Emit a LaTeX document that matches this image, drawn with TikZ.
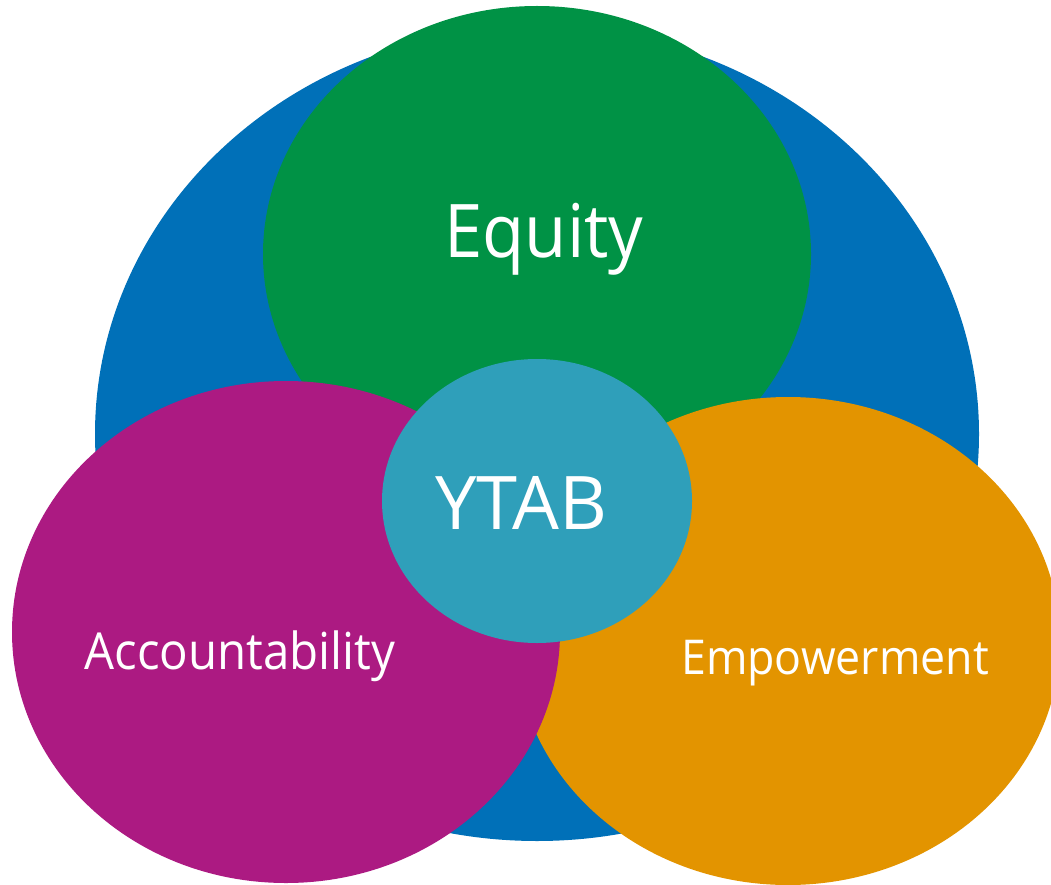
\documentclass[tikz,border=0pt]{standalone}
\usepackage{fontspec}
\setmainfont[FakeStretch=0.93]{Open Sans}
\newfontfamily\ytabfont{Open Sans}
\usepackage{tikz}
\usetikzlibrary{shapes.geometric,positioning}

\definecolor{ytabblue}{HTML}{0070B8}
\definecolor{ytabgreen}{HTML}{009245}
\definecolor{ytabmagenta}{HTML}{AC1A82}
\definecolor{ytaborange}{HTML}{E39400}
\definecolor{ytabteal}{HTML}{2F9FBA}

\tikzset{
    blob/.style={ellipse, inner sep=0pt, draw=none},
    word/.style={text=white, anchor=base, inner sep=0pt}
}

\begin{document}
\begin{tikzpicture}[x=1pt, y=-1pt]
    \clip (0,0) rectangle (1051,885);
    \node[blob, fill=ytabblue, minimum width=884pt, minimum height=814pt] (outer) at (537,434) {};
    \node[blob, fill=ytabgreen, minimum width=548pt, minimum height=496pt] (equity) at (537,254) {};
    \node[blob, fill=ytaborange, minimum width=544pt, minimum height=488pt] (empower) at (788,641) {};
    \node[blob, fill=ytabmagenta, minimum width=548pt, minimum height=502pt] (account) at (286,632) {};
    \node[blob, fill=ytabteal, minimum width=310pt, minimum height=284pt] (ytab) at (537,501) {};

    % labels
    \node[word, font=\fontsize{74}{80}\selectfont] (equitytext) at (544,258) {Equity};
    \node[word, font=\ytabfont\fontsize{74}{80}\selectfont] (ytabtext) at (521,529) {YTAB};
    \node[word, font=\fontsize{51}{56}\selectfont] (accounttext) at (240,669) {Accountability};
    \node[word, font=\fontsize{48}{52}\selectfont] (empowertext) at (835,674) {Empowerment};
\end{tikzpicture}
\end{document}
